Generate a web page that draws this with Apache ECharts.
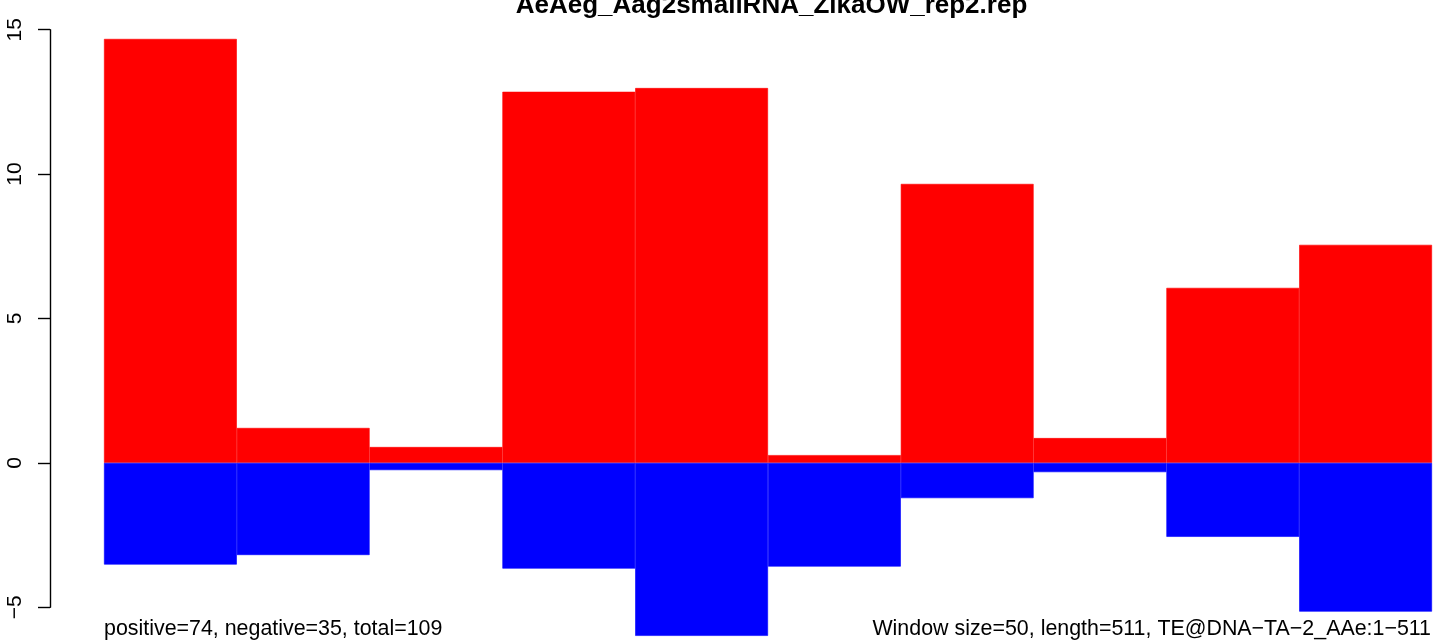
<!DOCTYPE html>
<html>
<head>
<meta charset="utf-8">
<script src="https://cdn.jsdelivr.net/npm/echarts@6/dist/echarts.min.js"></script>
<style>
html,body{margin:0;padding:0;background:#fff;}
#chart{width:1433px;height:641px;}
</style>
</head>
<body>
<div id="chart"></div>
<script>
const titleText = "AeAeg_Aag2smallRNA_ZikaOW_rep2.rep";
const leftNote = "positive=74, negative=35, total=109";
const rightNote = "Window size=50, length=511, TE@DNA\u2212TA\u22122_AAe:1\u2212511";
const windows = ["1","51","101","151","201","251","301","351","401","451"];
const positiveValues = [14.68, 1.21, 0.55, 12.85, 12.98, 0.27, 9.66, 0.86, 6.06, 7.55];
const negativeValues = [-3.52, -3.19, -0.25, -3.66, -5.99, -3.59, -1.22, -0.32, -2.56, -5.15];
const yTicks = [-5, 0, 5, 10, 15];

const FONT = "'Liberation Sans', Arial, Helvetica, sans-serif";
const chart = echarts.init(document.getElementById('chart'), null, {renderer: 'canvas'});
chart.setOption({
  animation: false,
  backgroundColor: '#ffffff',
  grid: {left: 104, right: 1, top: 29.7, bottom: 33.7, containLabel: false},
  xAxis: {
    type: 'category', data: windows, show: false, boundaryGap: true
  },
  yAxis: {
    type: 'value', min: yTicks[0], max: yTicks[yTicks.length - 1], interval: 5,
    offset: 54,
    axisLine: {show: true, lineStyle: {color: '#000', width: 1.4}},
    axisTick: {show: true, length: 12, lineStyle: {color: '#000', width: 1.4}},
    splitLine: {show: false},
    axisLabel: {
      rotate: 90, margin: 24, color: '#000', fontSize: 21, fontFamily: FONT,
      formatter: v => String(v).replace('-', '\u2212')
    }
  },
  series: [
    {type: 'bar', data: positiveValues, barWidth: '100%', barGap: '-100%', barCategoryGap: '0%',
     itemStyle: {color: '#ff0000', borderColor: '#ff0000', borderWidth: 0.6}, clip: false, silent: true},
    {type: 'bar', data: negativeValues, barWidth: '100%', barGap: '-100%', barCategoryGap: '0%',
     itemStyle: {color: '#0000ff', borderColor: '#0000ff', borderWidth: 0.6}, clip: false, silent: true}
  ],
  graphic: [
    {type: 'text', x: 771.5, y: 6, z: 100,
     style: {text: titleText, font: "bold 26px " + FONT, fill: '#000', align: 'center', verticalAlign: 'middle'}},
    {type: 'text', x: 104, y: 629, z: 100,
     style: {text: leftNote, font: "21.4px " + FONT, fill: '#000', align: 'left', verticalAlign: 'middle'}},
    {type: 'text', x: 1431, y: 629, z: 100,
     style: {text: rightNote, font: "21.4px " + FONT, fill: '#000', align: 'right', verticalAlign: 'middle'}}
  ]
});
</script>
</body>
</html>
